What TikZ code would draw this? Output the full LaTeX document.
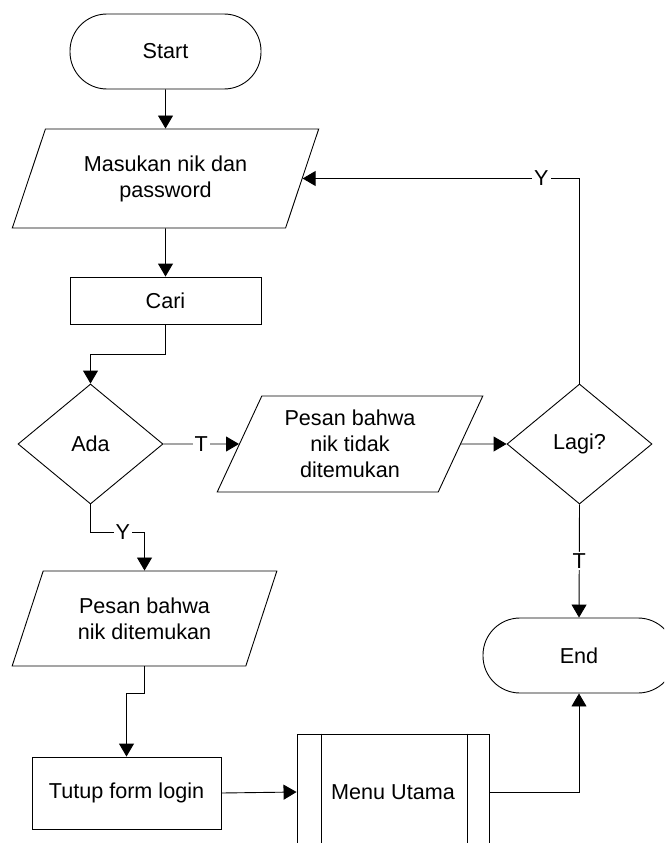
\documentclass[tikz,border=0pt]{standalone}
\usepackage{fontspec}
\setmainfont{Liberation Sans}
\usetikzlibrary{shapes.geometric,arrows.meta}
\begin{document}
\begin{tikzpicture}[x=1pt,y=-1pt,
  every node/.style={font=\fontsize{21.6}{26}\selectfont, align=center, inner sep=0pt},
  line/.style={draw=black, line width=0.9pt},
  arr/.style={line, -{Triangle[length=13pt,width=15pt]}},
  terminal/.style={line, rectangle, rounded corners=37pt, minimum width=191pt, minimum height=75pt},
  procbox/.style={line, rectangle},
  io/.style={line, trapezium, trapezium left angle=64, trapezium right angle=116,
    trapezium stretches=true},
  decision/.style={line, diamond, minimum width=145pt, minimum height=120pt},
  lbl/.style={fill=white, inner sep=2pt}]
  \useasboundingbox (0,0) rectangle (664,843);
  \clip (0,0) rectangle (664,843);

  % flow steps
  \node[terminal] (start) at (165.5,51.5) {Start};
  \node[io, minimum width=307pt, minimum height=99pt] (input) at (165.5,178.5)
    {Masukan nik dan\\password};
  \node[procbox, minimum width=191pt, minimum height=47pt] (cari) at (165.5,300.5) {Cari};
  \node[decision] (ada) at (90.5,444) {Ada};
  \node[io, minimum width=266pt, minimum height=96pt] (notfound) at (350,444)
    {Pesan bahwa\\nik tidak\\ditemukan};
  \node[decision] (lagi) at (579.5,444) {Lagi?};
  \node[terminal, minimum width=192pt] (end) at (579,655.5) {End};
  \node[io, minimum width=265pt, minimum height=95pt] (found) at (144.5,618.5)
    {Pesan bahwa\\nik ditemukan};
  \node[procbox, minimum width=189pt, minimum height=72pt] (tutup) at (126.5,793)
    {Tutup form login};
  \node[procbox, minimum width=192pt, minimum height=116pt] (menu) at (393,792)
    {Menu Utama};
  % predefined-process side bars
  \draw[line] ([xshift=25pt]menu.north west) -- ([xshift=25pt]menu.south west);
  \draw[line] ([xshift=-22pt]menu.north east) -- ([xshift=-22pt]menu.south east);

  % connectors
  \draw[arr] (start.south) -- (input.north);
  \draw[arr] (input.south) -- (cari.north);
  \draw[arr] (cari.south) -- ++(0,30) -| (ada.north);
  \draw[arr] (ada.east) -- node[lbl]{T} (notfound.west);
  \draw[arr] (notfound.east) -- (lagi.west);
  \draw[arr] (lagi.north) |- node[lbl, pos=0.569]{Y} (input.east);
  \draw[arr] (lagi.south) -- node[lbl]{T} (end.north);
  \draw[arr] (ada.south) -- ++(0,28) -| node[lbl, pos=0.3]{Y} (found.north);
  \draw[arr] (found.south) -- ++(0,27) -| (tutup.north);
  \draw[arr] (tutup.east) -- (menu.west);
  \draw[arr] (menu.east) -| (end.south);
\end{tikzpicture}
\end{document}
